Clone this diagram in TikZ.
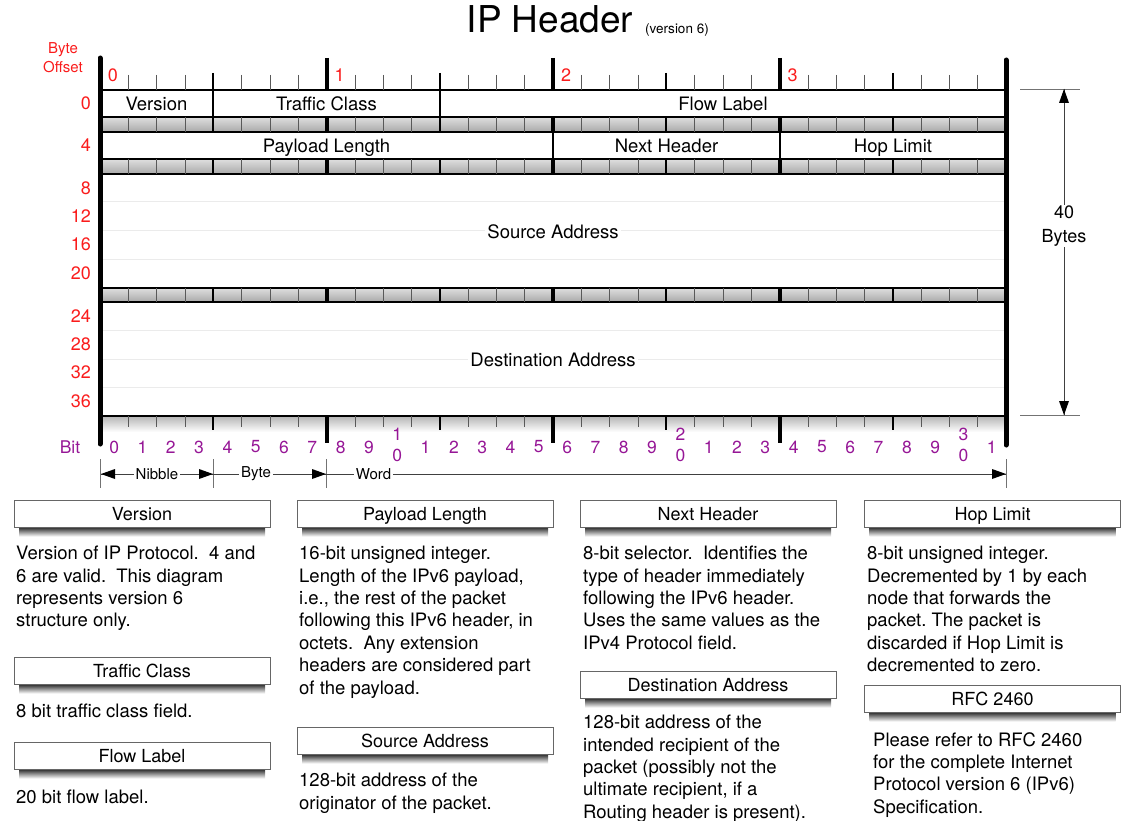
\documentclass[tikz,border=0pt]{standalone}
\usepackage{fontspec}
\setmainfont{TeX Gyre Heros}

\definecolor{offsetred}{RGB}{250,28,28}
\definecolor{bitpurple}{RGB}{150,22,150}

\newcommand{\setpx}[1]{\fontsize{#1}{#1}\selectfont}
% heading bar of a note, with its shadow underneath
\newcommand{\notebox}[4]{%
  \shade[top color=black!90,bottom color=white] ({#2-123},{#3+13}) rectangle ({#2+123},{#3+23});
  \node[notehead] (#1) at (#2,#3) {#4};
}

\tikzset{
  rowline/.style={draw=black,line width=1.2pt,fill=white},
  stripe/.style={top color=gray!25,bottom color=gray!68,draw=black,line width=1.2pt},
  bytetick/.style={line width=4pt},
  nibtick/.style={line width=2.2pt},
  bittick/.style={line width=0.6pt,black!65},
  field/.style={font=\setpx{18.5},inner sep=2pt,text height=18pt,text depth=4pt},
  offlabel/.style={font=\setpx{18},text=offsetred,anchor=east,inner sep=0pt},
  bytelabel/.style={font=\setpx{18},text=offsetred,inner sep=0pt},
  bitlabel/.style={font=\fontsize{17.5}{21}\selectfont,text=bitpurple,inner sep=0pt,align=center},
  guide/.style={black!55,line width=0.8pt},
  dimline/.style={draw=black!75,line width=0.8pt},
  tiphead/.style={fill=black},
  spanlabel/.style={fill=white,font=\setpx{15},inner sep=2pt},
  notehead/.style={draw=black!60,line width=0.8pt,fill=white,minimum width=256pt,minimum height=27pt,
    inner sep=1pt,font=\setpx{18},text height=18pt,text depth=4pt},
  notetext/.style={anchor=north west,align=left,inner sep=0pt,font=\fontsize{18.5}{22.4}\selectfont},
}

\frenchspacing

\begin{document}
\begin{tikzpicture}[x=1pt,y=-1pt]
\useasboundingbox (0,0) rectangle (1135,821);

% title
\node[font=\setpx{37},anchor=base,inner sep=0pt] (title) at (550,33) {IP Header};
\node[font=\setpx{13.5},anchor=base west,inner sep=0pt] (subtitle) at (645,34) {(version 6)};
\node[text=offsetred,font=\fontsize{15}{19}\selectfont,align=center,inner sep=0pt] (offset) at (63,58) {Byte\\Offset};

% header words
\draw[rowline] (100,90) rectangle (1006,117);
\draw[rowline] (100,132) rectangle (1006,159);
\draw[rowline] (100,174) rectangle (1006,288);
\draw[rowline] (100,302) rectangle (1006,416);
\foreach \yy in {202,231,259,330,359,387}
  \draw[gray!16,line width=1pt] (101,\yy) -- (1005,\yy);
\draw[line width=1.2pt] (213,90) -- (213,117);
\draw[line width=1.2pt] (440,90) -- (440,117);
\draw[line width=1.2pt] (553,132) -- (553,159);
\draw[line width=1.2pt] (780,132) -- (780,159);

% grey bands between the words
\foreach \ya/\yb in {117/132,159/174,288/302} {
  \shade[stripe] (100,\ya) rectangle (1006,\yb);
  \foreach \i in {1,...,31} {
    \pgfmathsetmacro\xb{100+\i*28.3125}
    \pgfmathtruncatemacro\rb{mod(\i,8)}
    \pgfmathtruncatemacro\rn{mod(\i,4)}
    \ifnum\rb=0 \draw[bytetick] (\xb,\ya) -- (\xb,\yb);
    \else\ifnum\rn=0 \draw[nibtick] (\xb,\ya) -- (\xb,\yb);
    \else \draw[bittick] (\xb,\ya) -- (\xb,\yb); \fi\fi
  }
}

% rulers
\shade[top color=gray!55,bottom color=white] (100,417) rectangle (1006,432);
\draw[line width=1.2pt] (100,416) -- (1006,416);
\foreach \i in {1,...,31} {
  \pgfmathsetmacro\xb{100+\i*28.3125}
  \pgfmathtruncatemacro\rb{mod(\i,8)}
  \pgfmathtruncatemacro\rn{mod(\i,4)}
  \ifnum\rb=0
    \draw[bytetick] (\xb,58) -- (\xb,90);
    \draw[bytetick] (\xb,416) -- (\xb,443);
  \else\ifnum\rn=0
    \draw[nibtick] (\xb,73) -- (\xb,90);
    \draw[nibtick] (\xb,416) -- (\xb,430);
  \else
    \draw[bittick] (\xb,75) -- (\xb,90);
    \draw[bittick] (\xb,416) -- (\xb,427);
  \fi\fi
}
\draw[line width=5pt,line cap=round] (100,58) -- (100,444);
\draw[line width=5pt,line cap=round] (1006,60) -- (1006,445);

% field names
\node[field] (ver) at (156.5,103.5) {Version};
\node[field] (tclass) at (326.5,103.5) {Traffic Class};
\node[field] (flow) at (723,103.5) {Flow Label};
\node[field] (paylen) at (326.5,145.5) {Payload Length};
\node[field] (nexthdr) at (666.5,145.5) {Next Header};
\node[field] (hoplim) at (893,145.5) {Hop Limit};
\node[field,fill=white] (srcaddr) at (553,231) {Source Address};
\node[field,fill=white] (dstaddr) at (553,359) {Destination Address};

% offsets and bit numbers
\foreach \off/\yy in {0/103,4/145,8/188,12/216,16/244,20/273,24/316,28/344,32/372,36/401}
  \node[offlabel] (off\off) at (91,\yy) {\off};
\foreach \b in {0,...,3}
  \node[bytelabel] (byte\b) at ({113+\b*226.5},75) {\b};
\node[bitlabel] (bitname) at (70,447) {Bit};
\foreach \i in {0,...,31} {
  \pgfmathsetmacro\xc{100+(\i+0.5)*28.3125}
  \pgfmathtruncatemacro\dig{mod(\i,10)}
  \pgfmathtruncatemacro\tens{\i/10}
  \pgfmathtruncatemacro\stk{and(\dig==0,\i>0)}
  \ifnum\stk=1
    \node[bitlabel] (bit\i) at (\xc,444.5) {\tens\\0};
  \else
    \node[bitlabel] (bit\i) at (\xc,447) {\dig};
  \fi
}

% nibble, byte, word
\coordinate (w0) at (101,474);
\coordinate (w1) at (213,474);
\coordinate (w2) at (326,474);
\coordinate (w3) at (1006,474);
\foreach \xx in {100,213,326,1006}
  \draw[guide] (\xx,459) -- (\xx,488);
\draw[dimline] (w0) -- (w1) node[midway,spanlabel] (nibble) {Nibble};
\draw[dimline] (w1) -- (w2) node[pos=0.38,spanlabel] (octet) {Byte};
\draw[dimline] (w2) -- (w3) node[pos=0.07,spanlabel] (word) {Word};
\fill[tiphead] (w0) -- ++(14,-5) -- ++(0,10) -- cycle;
\fill[tiphead] (w1) -- ++(-14,-5) -- ++(0,10) -- cycle;
\fill[tiphead] (w2) -- ++(-14,-5) -- ++(0,10) -- cycle;
\fill[tiphead] (w3) -- ++(-14,-5) -- ++(0,10) -- cycle;

% total length
\draw[guide] (1020,89) -- (1080,89);
\draw[guide] (1020,415) -- (1080,415);
\coordinate (ltop) at (1064,89);
\coordinate (lbot) at (1064,415);
\draw[dimline] (ltop) -- (lbot)
  node[pos=0.42,fill=white,align=center,font=\fontsize{18}{24}\selectfont,inner sep=1pt] (total) {40\\Bytes};
\fill[tiphead] (ltop) -- ++(-5,14) -- ++(10,0) -- cycle;
\fill[tiphead] (lbot) -- ++(-5,-14) -- ++(10,0) -- cycle;

% notes
\notebox{nver}{142}{513.5}{Version}
\node[notetext] (tver) at (16,546) {Version of IP Protocol.\ \ 4 and\\6 are valid.\ \ This diagram\\represents version 6\\structure only.};
\notebox{ntc}{142}{670.5}{Traffic Class}
\node[notetext] (ttc) at (16,704) {8 bit traffic class field.};
\notebox{nfl}{142}{755.5}{Flow Label}
\node[notetext] (tfl) at (16,790) {20 bit flow label.};

\notebox{npl}{425}{513.5}{Payload Length}
\node[notetext] (tpl) at (299,546) {16-bit unsigned integer.\\Length of the IPv6 payload,\\i.e., the rest of the packet\\following this IPv6 header, in\\octets.\ \ Any extension\\headers are considered part\\of the payload.};
\notebox{nsa}{425}{740.5}{Source Address}
\node[notetext] (tsa) at (299,773) {128-bit address of the\\originator of the packet.};

\notebox{nnh}{708}{513.5}{Next Header}
\node[notetext] (tnh) at (583,546) {8-bit selector.\ \ Identifies the\\type of header immediately\\following the IPv6 header.\\Uses the same values as the\\IPv4 Protocol field.};
\notebox{nda}{708}{684.5}{Destination Address}
\node[notetext] (tda) at (583,715) {128-bit address of the\\intended recipient of the\\packet (possibly not the\\ultimate recipient, if a\\Routing header is present).};

\notebox{nhl}{992.5}{513.5}{Hop Limit}
\node[notetext] (thl) at (867,546) {8-bit unsigned integer.\\Decremented by 1 by each\\node that forwards the\\packet. The packet is\\discarded if Hop Limit is\\decremented to zero.};
\notebox{nrfc}{992.5}{698.5}{RFC 2460}
\node[notetext] (trfc) at (873,732) {Please refer to RFC 2460\\for the complete Internet\\Protocol version 6 (IPv6)\\Specification.};
\end{tikzpicture}
\end{document}
